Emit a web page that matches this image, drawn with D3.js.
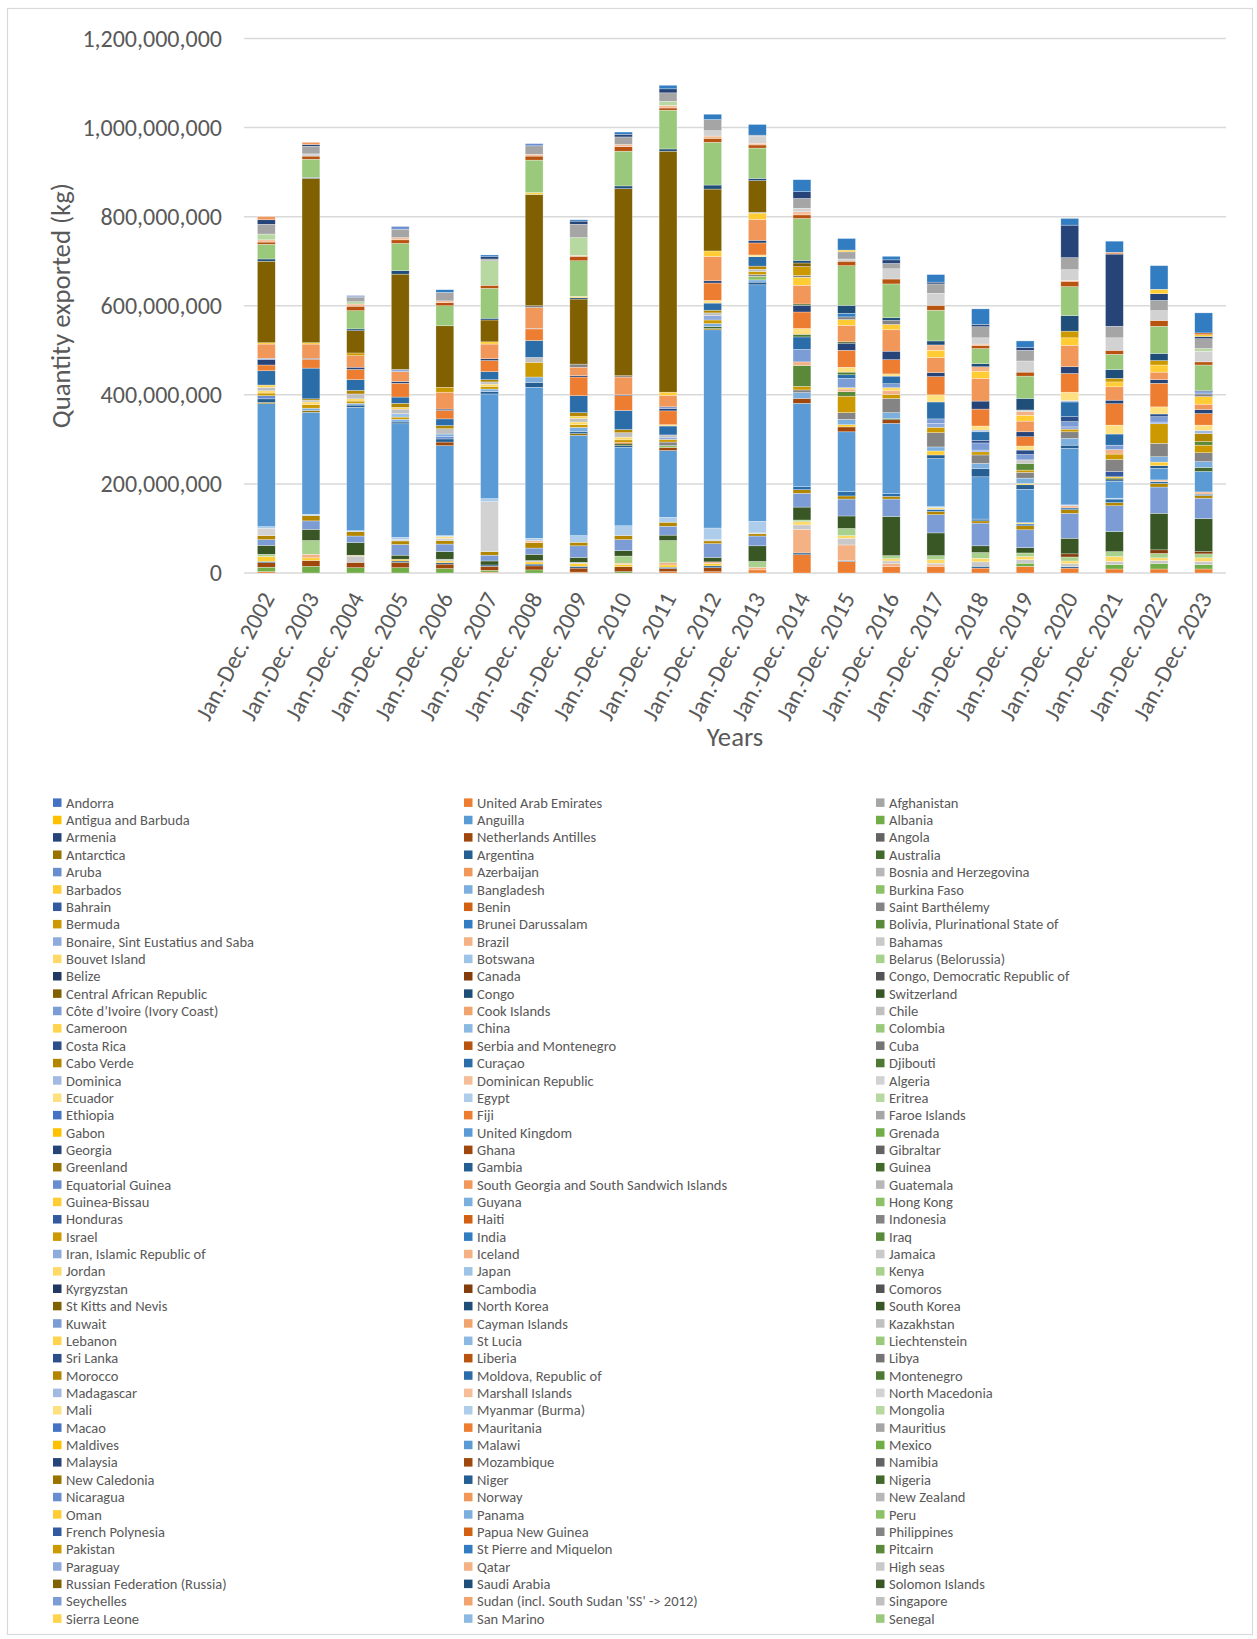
<!DOCTYPE html>
<html>
<head>
<meta charset="utf-8">
<script src="https://cdn.jsdelivr.net/npm/d3@7"></script>
<style>
  html, body { margin: 0; padding: 0; background: #ffffff; }
  svg { display: block; }
  text { font-family: Calibri, Carlito, "Liberation Sans", Arial, sans-serif; fill: #595959; }
</style>
</head>
<body>
<svg id="chart" width="1257" height="1639"></svg>
<script>
// ---------------------------------------------------------------
// Categories and axis ticks
// ---------------------------------------------------------------
const years = [
  "Jan.-Dec. 2002", "Jan.-Dec. 2003", "Jan.-Dec. 2004", "Jan.-Dec. 2005",
  "Jan.-Dec. 2006", "Jan.-Dec. 2007", "Jan.-Dec. 2008", "Jan.-Dec. 2009",
  "Jan.-Dec. 2010", "Jan.-Dec. 2011", "Jan.-Dec. 2012", "Jan.-Dec. 2013",
  "Jan.-Dec. 2014", "Jan.-Dec. 2015", "Jan.-Dec. 2016", "Jan.-Dec. 2017",
  "Jan.-Dec. 2018", "Jan.-Dec. 2019", "Jan.-Dec. 2020", "Jan.-Dec. 2021",
  "Jan.-Dec. 2022", "Jan.-Dec. 2023"
];
const yTicks = [0, 200000000, 400000000, 600000000, 800000000, 1000000000, 1200000000];

// Destinations in series order (legend reads row by row, three per row)
const legendNames = [
  "Andorra", "United Arab Emirates", "Afghanistan",
  "Antigua and Barbuda", "Anguilla", "Albania",
  "Armenia", "Netherlands Antilles", "Angola",
  "Antarctica", "Argentina", "Australia",
  "Aruba", "Azerbaijan", "Bosnia and Herzegovina",
  "Barbados", "Bangladesh", "Burkina Faso",
  "Bahrain", "Benin", "Saint Barthélemy",
  "Bermuda", "Brunei Darussalam", "Bolivia, Plurinational State of",
  "Bonaire, Sint Eustatius and Saba", "Brazil", "Bahamas",
  "Bouvet Island", "Botswana", "Belarus (Belorussia)",
  "Belize", "Canada", "Congo, Democratic Republic of",
  "Central African Republic", "Congo", "Switzerland",
  "Côte d’Ivoire (Ivory Coast)", "Cook Islands", "Chile",
  "Cameroon", "China", "Colombia",
  "Costa Rica", "Serbia and Montenegro", "Cuba",
  "Cabo Verde", "Curaçao", "Djibouti",
  "Dominica", "Dominican Republic", "Algeria",
  "Ecuador", "Egypt", "Eritrea",
  "Ethiopia", "Fiji", "Faroe Islands",
  "Gabon", "United Kingdom", "Grenada",
  "Georgia", "Ghana", "Gibraltar",
  "Greenland", "Gambia", "Guinea",
  "Equatorial Guinea", "South Georgia and South Sandwich Islands", "Guatemala",
  "Guinea-Bissau", "Guyana", "Hong Kong",
  "Honduras", "Haiti", "Indonesia",
  "Israel", "India", "Iraq",
  "Iran, Islamic Republic of", "Iceland", "Jamaica",
  "Jordan", "Japan", "Kenya",
  "Kyrgyzstan", "Cambodia", "Comoros",
  "St Kitts and Nevis", "North Korea", "South Korea",
  "Kuwait", "Cayman Islands", "Kazakhstan",
  "Lebanon", "St Lucia", "Liechtenstein",
  "Sri Lanka", "Liberia", "Libya",
  "Morocco", "Moldova, Republic of", "Montenegro",
  "Madagascar", "Marshall Islands", "North Macedonia",
  "Mali", "Myanmar (Burma)", "Mongolia",
  "Macao", "Mauritania", "Mauritius",
  "Maldives", "Malawi", "Mexico",
  "Malaysia", "Mozambique", "Namibia",
  "New Caledonia", "Niger", "Nigeria",
  "Nicaragua", "Norway", "New Zealand",
  "Oman", "Panama", "Peru",
  "French Polynesia", "Papua New Guinea", "Philippines",
  "Pakistan", "St Pierre and Miquelon", "Pitcairn",
  "Paraguay", "Qatar", "High seas",
  "Russian Federation (Russia)", "Saudi Arabia", "Solomon Islands",
  "Seychelles", "Sudan (incl. South Sudan 'SS' -> 2012)", "Singapore",
  "Sierra Leone", "San Marino", "Senegal"
];

// ---------------------------------------------------------------
// Quantities exported, millions of kg, 2002 → 2023
// ---------------------------------------------------------------
const unitedArabEmirates = [3,0,0,0,0,2,0,2,0,3,3,7,41,26,15,15,11,15,11,9,9,9];
const albania            = [10,15,12,12,10,4,7,0,3,0,0,0,0,0,0,0,0,7,0,10,12,10];
const netherlandsAntilles= [10,13,12,12,10,9,9,9,11,7,9,0,0,0,0,0,0,0,0,0,0,0];
const argentina          = [3,0,0,3,3,3,4,4,0,3,4,0,4,2,0,0,4,0,3,0,0,0];
const barbados           = [11,6,0,4,4,0,5,6,5,5,5,0,0,0,0,0,0,0,0,0,0,0];
const brazil             = [0,8,0,0,0,0,0,0,3,5,4,6,53,35,6,3,0,0,0,0,0,0];
const bahamas            = [0,0,14,0,4,0,3,3,0,0,0,0,10,15,6,4,10,8,7,7,7,7];
const bouvetIsland       = [0,0,2,0,0,0,0,0,0,0,0,0,7,6,5,8,8,7,6,11,6,8];
const belarus            = [5,31,0,0,0,0,0,0,16,50,0,13,4,16,7,9,13,8,9,11,10,9];
const canada             = [0,0,0,0,0,0,0,0,0,0,0,0,0,0,0,0,0,0,7,0,8,5];
const switzerland        = [20,25,28,9,17,9,14,11,12,12,10,35,29,28,88,51,15,12,35,45,82,74];
const coteDIvoire        = [13,19,15,24,17,13,14,26,25,20,31,22,31,38,39,41,51,40,56,58,59,46];
const caboVerde          = [9,12,10,8,8,8,12,8,9,9,6,5,8,7,6,7,5,9,8,7,8,6];
const curacao            = [0,0,0,0,0,0,0,0,0,0,0,0,7,10,6,5,4,4,4,8,4,3];
const dominicanRepublic  = [0,0,0,0,0,0,5,0,0,0,0,0,0,0,0,0,0,0,5,0,4,5];
const algeria            = [16,0,0,3,5,112,0,0,0,0,3,2,0,0,0,0,0,0,0,0,0,0];
const ecuador            = [0,0,0,0,4,0,0,0,0,0,0,0,0,0,0,4,0,3,0,0,0,0];
const egypt              = [4,3,2,5,2,7,5,15,22,11,26,26,0,0,0,2,0,0,2,2,0,0];
const unitedKingdom      = [276,229,277,255,202,235,339,225,176,150,445,531,187,134,158,108,95,75,127,38,26,46];
const ghana              = [0,0,0,0,8,0,0,0,0,7,0,0,11,11,8,0,0,0,0,0,0,0];
const greenland          = [3,4,0,0,0,0,0,4,0,0,3,0,0,0,0,0,0,0,0,0,0,0];
const gambia             = [8,0,5,4,7,5,11,4,4,0,0,6,0,0,0,8,18,10,7,3,6,0];
const guinea             = [0,0,0,0,0,0,0,0,4,0,4,0,0,0,3,0,0,0,0,4,0,9];
const equatorialGuinea   = [7,0,0,0,6,0,0,0,0,0,0,0,0,0,0,0,0,0,0,0,0,0];
const guineaBissau       = [0,0,0,0,0,0,0,0,0,0,0,0,0,5,0,9,0,3,0,3,8,0];
const guyana             = [0,5,4,6,5,6,12,10,0,0,7,5,13,12,13,9,12,12,15,0,12,13];
const hongKong           = [0,0,0,0,0,0,0,0,0,4,0,8,0,0,0,0,0,0,0,0,0,0];
const honduras           = [0,0,0,0,0,0,0,0,0,0,0,0,0,0,0,0,0,0,0,12,0,0];
const haiti              = [0,0,0,0,0,0,0,0,3,0,0,0,0,0,0,0,0,0,0,0,0,0];
const indonesia          = [0,0,0,0,0,0,0,0,0,8,0,4,6,15,32,32,19,13,15,27,30,20];
const israel             = [6,8,5,5,0,6,33,6,6,6,8,7,8,37,9,12,7,5,6,12,44,17];
const iraq               = [0,0,0,0,0,0,0,0,0,0,0,0,47,10,0,0,0,15,0,0,0,8];
const iran               = [0,0,0,0,0,0,0,0,0,5,10,0,0,0,0,9,4,0,5,0,4,0];
const iceland            = [0,0,0,0,0,0,0,0,0,0,0,0,8,6,8,0,0,0,0,10,0,0];
const jamaica            = [0,0,0,0,0,0,0,0,0,0,0,0,0,0,0,0,0,8,0,0,0,0];
const jordan             = [5,6,5,0,0,5,0,6,6,0,0,0,0,3,7,0,0,0,0,0,0,0];
const japan              = [0,0,0,8,0,0,0,0,0,0,0,0,0,0,0,0,0,0,0,0,0,0];
const kuwait             = [0,0,0,0,0,0,0,0,0,0,0,0,28,21,9,10,16,12,12,10,12,0];
const kazakhstan         = [8,4,11,10,12,5,11,8,10,5,6,5,0,0,0,0,0,0,0,0,0,0];
const lebanon            = [5,0,0,4,0,0,0,5,0,0,0,0,0,0,0,0,0,0,0,0,0,0];
const sriLanka           = [0,0,0,0,0,0,0,0,0,0,0,0,0,0,0,0,6,10,11,0,6,0];
const morocco            = [0,3,8,9,7,5,0,8,7,0,6,7,0,0,0,0,0,0,0,0,0,18];
const moldova            = [32,69,24,14,15,18,38,38,43,20,16,21,28,8,17,38,19,0,33,25,0,0];
const montenegro         = [0,0,0,0,0,0,0,0,0,0,0,0,6,6,0,0,0,0,0,0,0,0];
const madagascar         = [0,0,0,0,0,0,0,0,0,0,0,0,0,0,0,0,4,0,3,0,0,7];
const mali               = [0,0,0,0,0,0,0,0,0,3,6,4,13,11,5,16,9,9,19,20,16,12];
const mauritania         = [13,20,23,31,19,25,26,42,33,31,39,27,37,38,32,41,38,21,42,48,53,26];
const malaysia           = [12,2,5,4,3,4,1,3,2,5,5,6,15,16,19,9,18,11,15,8,8,9];
const nigeria            = [0,0,0,0,0,0,0,0,0,0,0,0,3,3,0,0,0,0,0,0,0,0];
const nicaragua          = [3,0,0,0,0,0,0,0,0,4,0,0,0,0,0,0,0,0,0,0,0,0];
const norway             = [32,32,26,22,38,33,47,19,40,26,55,47,42,37,48,34,51,24,48,30,17,12];
const oman               = [3,3,0,0,0,5,0,0,0,7,12,14,18,13,12,16,16,13,17,11,16,17];
const philippines        = [0,0,0,0,0,0,4,7,3,0,0,2,4,6,9,0,0,0,0,0,0,6];
const pakistan           = [0,0,6,0,11,0,0,0,0,0,0,0,20,0,0,0,0,0,15,8,10,0];
const stPierreMiquelon   = [0,0,0,0,0,0,0,0,0,0,0,0,0,8,0,0,0,0,0,0,0,0];
const paraguay           = [0,0,0,5,0,0,0,0,0,0,0,0,0,0,0,0,0,0,0,0,0,5];
const qatar              = [0,0,0,0,0,0,0,0,0,0,0,0,0,0,0,12,10,8,0,0,0,0];
const highSeas           = [0,0,0,0,0,0,0,0,0,0,0,0,0,0,0,0,0,4,0,0,0,0];
const russia             = [183,369,50,214,138,49,250,146,420,541,139,71,8,0,0,0,0,0,0,0,0,0];
const saudiArabia        = [5,2,4,8,0,4,0,3,6,5,9,5,6,18,6,9,7,26,35,20,16,3];
const sierraLeone        = [0,0,0,0,0,0,4,3,0,0,0,0,0,0,0,0,0,0,0,0,0,0];
const senegal            = [33,41,41,61,45,67,73,80,78,87,96,68,94,89,76,69,34,50,65,34,61,57];

// Destinations further down the series list, past the last legend row;
// identified by their position in the series order.
const series151 = [5,7,10,8,7,7,9,10,10,5,9,7,8,10,11,11,7,9,12,9,13,7];
const series157 = [5,0,5,5,4,0,4,2,5,6,5,4,7,0,0,0,3,0,2,0,0,0];
const series158 = [0,5,0,0,0,0,0,0,0,0,12,15,8,5,23,27,14,25,24,28,22,24];
const series161 = [13,0,5,0,0,55,0,40,0,9,0,0,0,0,0,0,0,0,0,0,0,6];
const series164 = [22,17,10,19,19,4,19,30,17,19,25,3,22,16,12,21,25,24,27,26,23,22];
const series168 = [10,4,2,0,0,5,0,7,6,9,0,0,15,0,8,4,5,6,73,162,15,5];
const series174 = [0,0,2,6,0,0,5,0,0,0,0,0,0,0,0,0,0,0,0,0,0,0];
const series175 = [7,5,0,0,0,0,0,0,0,0,0,0,0,0,0,0,0,0,0,4,0,0];
const series177 = [0,0,0,0,0,0,0,0,0,0,0,0,0,4,0,0,0,0,0,0,10,4];
const series181 = [0,0,0,0,0,0,0,0,0,0,0,0,0,0,0,0,0,0,0,0,0,4];
const series184 = [0,0,0,0,6,4,0,3,5,8,12,24,27,26,8,17,35,15,15,25,53,45];

// ---------------------------------------------------------------
// Lookup tables built from the arrays above
// ---------------------------------------------------------------
const quantityByName = new Map([
  ["United Arab Emirates", unitedArabEmirates], ["Albania", albania],
  ["Netherlands Antilles", netherlandsAntilles], ["Argentina", argentina],
  ["Barbados", barbados], ["Brazil", brazil], ["Bahamas", bahamas],
  ["Bouvet Island", bouvetIsland], ["Belarus (Belorussia)", belarus],
  ["Canada", canada], ["Switzerland", switzerland],
  ["Côte d’Ivoire (Ivory Coast)", coteDIvoire], ["Cabo Verde", caboVerde],
  ["Curaçao", curacao], ["Dominican Republic", dominicanRepublic],
  ["Algeria", algeria], ["Ecuador", ecuador], ["Egypt", egypt],
  ["United Kingdom", unitedKingdom], ["Ghana", ghana], ["Greenland", greenland],
  ["Gambia", gambia], ["Guinea", guinea], ["Equatorial Guinea", equatorialGuinea],
  ["Guinea-Bissau", guineaBissau], ["Guyana", guyana], ["Hong Kong", hongKong],
  ["Honduras", honduras], ["Haiti", haiti], ["Indonesia", indonesia],
  ["Israel", israel], ["Iraq", iraq], ["Iran, Islamic Republic of", iran],
  ["Iceland", iceland], ["Jamaica", jamaica], ["Jordan", jordan], ["Japan", japan],
  ["Kuwait", kuwait], ["Kazakhstan", kazakhstan], ["Lebanon", lebanon],
  ["Sri Lanka", sriLanka], ["Morocco", morocco], ["Moldova, Republic of", moldova],
  ["Montenegro", montenegro], ["Madagascar", madagascar], ["Mali", mali],
  ["Mauritania", mauritania], ["Malaysia", malaysia], ["Nigeria", nigeria],
  ["Nicaragua", nicaragua], ["Norway", norway], ["Oman", oman],
  ["Philippines", philippines], ["Pakistan", pakistan],
  ["St Pierre and Miquelon", stPierreMiquelon], ["Paraguay", paraguay],
  ["Qatar", qatar], ["High seas", highSeas],
  ["Russian Federation (Russia)", russia], ["Saudi Arabia", saudiArabia],
  ["Sierra Leone", sierraLeone], ["Senegal", senegal]
]);
const laterSeries = [
  { slot: 151, values: series151 }, { slot: 157, values: series157 },
  { slot: 158, values: series158 }, { slot: 161, values: series161 },
  { slot: 164, values: series164 }, { slot: 168, values: series168 },
  { slot: 174, values: series174 }, { slot: 175, values: series175 },
  { slot: 177, values: series177 }, { slot: 181, values: series181 },
  { slot: 184, values: series184 }
];

// ---------------------------------------------------------------
// Office colour cycle: six accents, then tinted / shaded passes
// ---------------------------------------------------------------
const officeAccents = ["#4472C4", "#ED7D31", "#A5A5A5", "#FFC000", "#5B9BD5", "#70AD47"];
const shadeSteps = [[1, 0], [0.6, 0], [0.8, 0.2], [0.8, 0], [0.6, 0.4], [0.5, 0], [0.7, 0.3], [0.7, 0], [0.5, 0.5]];
function seriesColour(slot) {
  const c = d3.hsl(officeAccents[slot % 6]);
  const [mod, off] = shadeSteps[Math.floor(slot / 6) % 9];
  c.l = c.l * mod + off;
  return c.formatHex();
}
// Six series without legend entries sit between "High seas" and Russia,
// so legend rows from Russia on take colour slots six further along.
function legendSlot(i) { return i < 135 ? i : i + 6; }

// ---------------------------------------------------------------
// Drawing
// ---------------------------------------------------------------
const svg = d3.select("#chart");
svg.append("rect")
  .attr("x", 7.5).attr("y", 8.5).attr("width", 1245).attr("height", 1626)
  .attr("fill", "#ffffff").attr("stroke", "#d9d9d9").attr("stroke-width", 1.2);

const plot = { left: 244, right: 1226, top: 38.5, bottom: 573 };

const x = d3.scaleBand().domain(years).range([plot.left, plot.right])
  .paddingInner(0.6).paddingOuter(0.3);
const y = d3.scaleLinear().domain([0, 1200000000]).range([plot.bottom, plot.top]);

// gridlines
svg.append("g").selectAll("line").data(yTicks).join("line")
  .attr("x1", plot.left).attr("x2", plot.right)
  .attr("y1", d => y(d)).attr("y2", d => y(d))
  .attr("stroke", "#d9d9d9").attr("stroke-width", 1.5);

// y axis labels
const yAxis = svg.append("g").attr("transform", `translate(${plot.left},0)`)
  .call(d3.axisLeft(y).tickValues(yTicks).tickFormat(d3.format(",")).tickSize(0).tickPadding(22));
yAxis.select(".domain").remove();
yAxis.selectAll("text").attr("font-size", 24).attr("font-family", null)
  .style("fill", "#595959");

// stacked columns
const allSeries = legendNames.map((name, i) => ({ key: "s" + legendSlot(i), slot: legendSlot(i), values: quantityByName.get(name) }))
  .filter(s => s.values)
  .concat(laterSeries.map(s => ({ key: "s" + s.slot, slot: s.slot, values: s.values })))
  .sort((a, b) => a.slot - b.slot);

const table = years.map((yr, j) => {
  const row = { year: yr };
  allSeries.forEach(s => { row[s.key] = s.values[j] * 1e6; });
  return row;
});
const layers = d3.stack().keys(allSeries.map(s => s.key))(table);
const slotByKey = new Map(allSeries.map(s => [s.key, s.slot]));

svg.append("g").selectAll("g").data(layers).join("g")
  .attr("fill", d => seriesColour(slotByKey.get(d.key)))
  .selectAll("rect").data(d => d.filter(p => p[1] - p[0] > 0)).join("rect")
  .attr("x", d => x(d.data.year))
  .attr("width", x.bandwidth())
  .attr("y", d => y(d[1]))
  .attr("height", d => y(d[0]) - y(d[1]))
  .attr("stroke", "#ffffff").attr("stroke-width", 0.5).attr("stroke-opacity", 0.6);

// x axis labels
const xAxis = svg.append("g").attr("transform", `translate(0,${plot.bottom})`)
  .call(d3.axisBottom(x).tickSize(0));
xAxis.select(".domain").remove();
xAxis.selectAll("text")
  .attr("font-size", 24).attr("font-family", null)
  .style("fill", "#595959")
  .attr("text-anchor", "end")
  .attr("x", 0).attr("y", 0).attr("dy", null)
  .attr("transform", "translate(9,25) rotate(-62)");

// axis titles
svg.append("text")
  .attr("transform", `translate(61,${(plot.top + plot.bottom) / 2}) rotate(-90)`)
  .attr("text-anchor", "middle").attr("dy", "0.35em")
  .attr("font-size", 26.7)
  .text("Quantity exported (kg)");
svg.append("text")
  .attr("x", (plot.left + plot.right) / 2).attr("y", 737)
  .attr("text-anchor", "middle").attr("dy", "0.35em")
  .attr("font-size", 26.7)
  .text("Years");

// legend
const legendCols = [53, 464, 876];
const legend = svg.append("g").selectAll("g").data(legendNames).join("g")
  .attr("transform", (d, i) => `translate(${legendCols[i % 3]},${802.7 + Math.floor(i / 3) * 17.36})`);
legend.append("rect")
  .attr("x", 0).attr("y", -4.3).attr("width", 8.5).attr("height", 8.5)
  .attr("fill", (d, i) => seriesColour(legendSlot(i)));
legend.append("text")
  .attr("x", 13).attr("y", 0).attr("dy", "0.35em")
  .attr("font-size", 14.5)
  .text(d => d);
</script>
</body>
</html>
